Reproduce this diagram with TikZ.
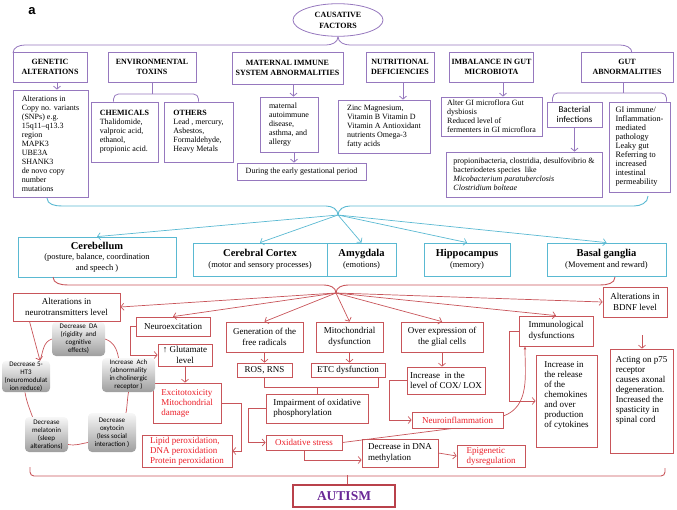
\documentclass[tikz,border=0pt]{standalone}
\usepackage{fontspec}
\setmainfont{Liberation Serif}
\newfontfamily\calib{Carlito}
\newfontfamily\arialf{Liberation Sans}
\usetikzlibrary{shapes.geometric,arrows.meta}
\definecolor{pur}{RGB}{150,120,190}
\definecolor{cy}{RGB}{90,185,210}
\definecolor{rd}{RGB}{200,85,90}
\definecolor{rtxt}{RGB}{235,30,40}
\definecolor{autc}{RGB}{105,40,150}
\definecolor{autr}{RGB}{185,65,75}
\tikzset{pbox/.style={draw=pur, line width=0.8pt, inner sep=2pt},
  phead/.style={pbox, align=center, font=\fontsize{8}{10}\selectfont\bfseries},
  ptext/.style={pbox, align=left, font=\fontsize{8}{9}\selectfont},
  cbox/.style={draw=cy, line width=0.8pt, align=center, font=\fontsize{8.5}{10.5}\selectfont},
  rbox/.style={draw=rd, line width=0.8pt, inner sep=2pt, align=center, font=\fontsize{9}{10.5}\selectfont},
  rlbox/.style={rbox, align=left},
  rtext/.style={text=rtxt},
  gbox/.style={rounded corners=4pt, top color=black!3, bottom color=black!38, inner sep=1pt, align=center, font=\calib\fontsize{7}{8}\selectfont},
  pline/.style={draw=pur, line width=0.8pt},
  parr/.style={pline, -{Straight Barb[length=3pt,width=7pt]}},
  cline/.style={draw=cy, line width=0.9pt},
  carr/.style={draw=cy, line width=0.7pt, -{Straight Barb[length=3pt,width=7pt]}},
  rline/.style={draw=rd, line width=0.7pt},
  rarr/.style={rline, -{Straight Barb[length=3pt,width=7pt]}},
  rtri/.style={rline, -{Latex[length=3pt,width=3pt]}}}
\begin{document}
\begin{tikzpicture}[x=1pt,y=-1pt]
  \useasboundingbox (0,0) rectangle (677,509);
  \node[font=\arialf\bfseries\fontsize{13}{15}\selectfont] (lab) at (32,11) {a};
  \node[ellipse, draw=pur, line width=0.8pt, minimum width=90pt, minimum height=32pt, align=center, font=\fontsize{8}{11}\selectfont\bfseries] (cause) at (338,20) {CAUSATIVE\\FACTORS};
  \node[phead, minimum width=74pt, minimum height=30pt] (gen) at (50,67) {GENETIC\\ALTERATIONS};
  \node[phead, minimum width=88pt, minimum height=30pt] (env) at (152,67) {ENVIRONMENTAL\\TOXINS};
  \node[phead, minimum width=111pt, minimum height=32pt] (mat) at (287.5,68) {MATERNAL IMMUNE\\SYSTEM ABNORMALITIES};
  \node[phead, minimum width=68pt, minimum height=30pt] (nut) at (400,67) {NUTRITIONAL\\DEFICIENCIES};
  \node[phead, minimum width=81pt, minimum height=30pt] (imb) at (491.5,67) {IMBALANCE IN GUT\\MICROBIOTA};
  \node[phead, minimum width=92pt, minimum height=30pt] (gut) at (627,67) {GUT\\ABNORMALITIES};
  \draw[pline] (13,53) to[out=90,in=180] (25,45) -- (326,45) to[out=0,in=-90] (cause.south);
  \draw[pline] (cause.south) to[out=-90,in=180] (350,45) -- (620,45) to[out=0,in=90] (632,53);

  \node[ptext, minimum width=75pt, minimum height=107pt] (genx) at (50.5,143.5) {Alterations in\\Copy no. variants\\(SNPs) e.g.\\15q11–q13.3\\region\\MAPK3\\UBE3A\\SHANK3\\de novo copy\\number\\mutations};
  \node[ptext, minimum width=67pt, minimum height=60pt] (chem) at (124.5,132) {\textbf{CHEMICALS}\\Thalidomide,\\valproic acid,\\ethanol,\\propionic acid.};
  \node[ptext, minimum width=69pt, minimum height=60pt] (oth) at (198.5,132) {\textbf{OTHERS}\\Lead , mercury,\\Asbestos,\\Formaldehyde,\\Heavy Metals};
  \node[ptext, minimum width=58pt, minimum height=55pt] (matx) at (289,124.5) {maternal\\autoimmune\\disease,\\asthma, and\\allergy};
  \node[ptext, minimum width=129pt, minimum height=17pt] (gest) at (301.5,171.5) {During the early gestational period};
  \node[ptext, minimum width=92pt, minimum height=53pt] (nutx) at (384,126.5) {Zinc Magnesium,\\Vitamin B Vitamin D\\Vitamin A Antioxidant\\nutrients Omega-3\\fatty acids};
  \node[ptext, minimum width=101pt, minimum height=39pt] (imbx) at (491.5,116.5) {Alter GI microflora Gut\\dysbiosis\\Reduced level of\\fermenters in GI microflora};
  \node[pbox, minimum width=55pt, minimum height=25pt, align=center, font=\calib\fontsize{9}{10}\selectfont] (bact) at (574.5,114.5) {Bacterial\\infections};
  \node[ptext, minimum width=156pt, minimum height=45pt] (prop) at (524,174.5) {propionibacteria, clostridia, desulfovibrio \&\\bacteriodetes species\ \ like\\\textit{Micobacterium paratuberclosis}\\\textit{Clostridium bolteae}};
  \node[ptext, minimum width=61pt, minimum height=90pt, font=\fontsize{8.3}{9}\selectfont] (gix) at (639.5,147) {GI immune/\\Inflammation-\\mediated\\pathology\\Leaky gut\\Referring to\\increased\\intestinal\\permeability};

  \draw[parr] ([xshift=7pt]gen.south) -- ([xshift=7pt]gen.south |- genx.north);
  \draw[pline] (env.south) -- ++(0,12);
  \draw[pline, rounded corners=5pt] ([xshift=-11pt]chem.north) |- (152,94) -| (oth.north);
  \draw[parr] ([xshift=6pt]mat.south) -- ([xshift=6pt]mat.south |- matx.north);
  \draw[parr] ([xshift=5pt]matx.south) -- ([xshift=5pt]matx.south |- gest.north);
  \draw[parr] ([xshift=3pt]nut.south) -- ([xshift=3pt]nut.south |- nutx.north);
  \draw[parr] ([xshift=11.5pt]imb.south) -- ([xshift=11.5pt]imb.south |- imbx.north);
  \draw[pline] ([xshift=-4pt]gut.south) -- ++(0,11);
  \draw[pline, rounded corners=5pt] ([xshift=-22pt]bact.north) |- (623,93) -| ([xshift=27pt]gix.north);
  \draw[parr] (bact.south) -- (bact.south |- prop.north);

  \coordinate (hub) at (338,215);
  \draw[cline] (47,198) to[out=-90,in=180] (62,206) -- (326,206) to[out=0,in=90] (hub);
  \draw[cline] (hub) to[out=90,in=180] (350,206) -- (634,206) to[out=0,in=-90] (648,196);
  \node[cbox, minimum width=158pt, minimum height=40pt] (cbl) at (97,257) {\textbf{\fontsize{10.5}{12}\selectfont Cerebellum}\\(posture, balance, coordination\\and speech )};
  \node[cbox, minimum width=134pt, minimum height=33pt] (ccx) at (260,259.5) {\textbf{\fontsize{10.5}{12}\selectfont Cerebral Cortex}\\(motor and sensory processes)};
  \node[cbox, minimum width=69pt, minimum height=33pt] (amy) at (361.5,259.5) {\textbf{\fontsize{10.5}{12}\selectfont Amygdala}\\(emotions)};
  \node[cbox, minimum width=86pt, minimum height=33pt] (hip) at (467,259.5) {\textbf{\fontsize{10.5}{12}\selectfont Hippocampus}\\(memory)};
  \node[cbox, minimum width=119pt, minimum height=33pt] (bas) at (606.5,259.5) {\textbf{\fontsize{10.5}{12}\selectfont Basal ganglia}\\(Movement and reward)};
  \foreach \t in {cbl,ccx,amy,hip,bas}
    \draw[carr] (hub) -- (\t.north);

  \coordinate (hub2) at (336,293);
  \draw[rline, line width=0.9pt] (53,277) to[out=-90,in=180] (68,285) -- (324,285) to[out=0,in=90] (hub2);
  \draw[rline, line width=0.9pt] (hub2) to[out=90,in=180] (348,285) -- (600,285) to[out=0,in=-90] (615,277);

  \node[rbox, minimum width=107pt, minimum height=28pt] (neu) at (66.5,307) {Alterations in\\neurotransmitters level};
  \node[rbox, minimum width=74pt, minimum height=19pt] (nex) at (173,326.5) {Neuroexcitation};
  \node[rbox, minimum width=54pt, minimum height=22pt] (glu) at (185,355) {↑ Glutamate\\level};
  \node[rlbox, rtext, minimum width=68pt, minimum height=40pt, font=\fontsize{9}{10}\selectfont] (exc) at (187,403) {Excitotoxicity\\Mitochondrial\\damage};
  \node[rlbox, rtext, minimum width=90pt, minimum height=32pt, font=\fontsize{9}{10}\selectfont] (lip) at (187,451) {Lipid peroxidation,\\DNA peroxidation\\Protein peroxidation};
  \node[rbox, minimum width=77pt, minimum height=30pt] (frad) at (264.5,337) {Generation of the\\free radicals};
  \node[rbox, minimum width=67pt, minimum height=30pt] (mito) at (349.5,337) {Mitochondrial\\dysfunction};
  \node[rbox, minimum width=82pt, minimum height=30pt] (glia) at (442,337) {Over expression of\\the glial cells};
  \node[rlbox, minimum width=74pt, minimum height=30pt] (immu) at (556,331) {Immunological\\dysfunctions};
  \node[rbox, minimum width=64pt, minimum height=30pt] (bdnf) at (635,302) {Alterations in\\BDNF level};
  \node[rbox, minimum width=55pt, minimum height=14pt, inner sep=1pt] (ros) at (264.5,370) {ROS, RNS};
  \node[rbox, minimum width=74pt, minimum height=14pt, inner sep=1pt] (etc) at (348,370) {ETC dysfunction};
  \node[rlbox, minimum width=102pt, minimum height=29pt] (imp) at (317,408.5) {Impairment of oxidative\\phosphorylation};
  \node[rbox, rtext, minimum width=76pt, minimum height=15pt, inner sep=1pt] (oxs) at (304,442.5) {Oxidative stress};
  \node[rlbox, minimum width=76pt, minimum height=28pt] (dna) at (400,453) {Decrease in DNA\\methylation};
  \node[rlbox, rtext, minimum width=68pt, minimum height=22pt, font=\fontsize{9}{10}\selectfont] (epi) at (491,456) {Epigenetic\\dysregulation};
  \node[rlbox, minimum width=78pt, minimum height=27pt] (cox) at (446,380.5) {Increase\ \ in the\\level of COX/ LOX};
  \node[rbox, rtext, minimum width=91pt, minimum height=16pt, inner sep=1pt] (ninf) at (457.5,420) {Neuroinflammation};
  \node[rbox, minimum width=61pt, minimum height=92pt, label={[anchor=north, align=left, font=\fontsize{9}{10}\selectfont, yshift=-3pt]north:{Increase in\\the release\\of the\\chemokines\\and over\\production\\of cytokines}}] (rel) at (566.5,401) {};
  \node[rbox, minimum width=63pt, minimum height=104pt, label={[anchor=north, align=left, font=\fontsize{9}{10}\selectfont, yshift=-4pt]north:{Acting on p75\\receptor\\causes axonal\\degeneration.\\Increased the\\spasticity in\\spinal cord}}] (p75) at (641.5,401) {};

  \draw[rarr] (hub2) -- (neu.east);
  \foreach \t in {nex,frad,mito,glia,immu}
    \draw[rarr] (hub2) -- (\t.north);
  \draw[rarr] (hub2) -- (bdnf.west);

  \node[gbox, minimum width=53pt, minimum height=34pt] (gda) at (78.5,339) {Decrease\ \ DA\\(rigidity\ \ and\\cognitive\\effects)};
  \node[gbox, minimum width=48pt, minimum height=31pt] (g5ht) at (26,376.5) {Decrease 5-\\HT3\\(neuromodulat\\ion reduce)};
  \node[gbox, minimum width=53pt, minimum height=34pt] (gach) at (128.5,375) {Increase\ \ Ach\\(abnormality\\in cholinergic\\receptor )};
  \node[gbox, minimum width=43pt, minimum height=35pt] (gmel) at (46.5,434.5) {Decrease\\melatonin\\(sleep\\alterations)};
  \node[gbox, minimum width=48pt, minimum height=39pt] (goxy) at (112,432.5) {Decrease\\oxytocin\\(less social\\interaction )};
  \draw[rarr] ([xshift=-37pt]neu.south) -- ([xshift=14pt]g5ht.north);
  \draw[rline] (gda.west) to[out=200,in=70] ([xshift=14pt]g5ht.north);
  \draw[rline] (gda.east) to[out=-20,in=100] ([xshift=-10pt]gach.north);
  \draw[rline] ([xshift=-1pt]g5ht.south) to[out=-80,in=110] ([xshift=-14pt]gmel.north);
  \draw[rline] ([yshift=-10pt]gmel.east) to[out=-10,in=190] ([yshift=-10pt]goxy.west);
  \draw[rline] (gach.south) to[out=-100,in=80] ([xshift=14pt]goxy.north);

  \draw[rarr] (nex.west) -- ++(-5,0) |- (glu.west);
  \draw[rarr] (glu.south) -- (glu.south |- exc.north);
  \draw[rarr] (exc.east) -- ++(20,0) |- (lip.east);
  \draw[rarr] (frad.south) -- (frad.south |- ros.north);
  \draw[rarr] (mito.south) -- (mito.south |- etc.north);
  \draw[rline] (ros.south) -- ++(0,10) -| ([xshift=30pt]etc.south);
  \draw[rline] (imp.north) -- ++(0,-7);
  \draw[rarr] (imp.west) -- ++(-17,0) |- (oxs.west);
  \draw[rline] (oxs.east) -- ([xshift=-4.5pt]ninf.south);
  \draw[rarr] (oxs.south) |- ([yshift=-7pt]dna.west);
  \draw[rarr] (dna.east) -- (epi.west);
  \draw[rarr] (glia.south) -- (glia.south |- cox.north);
  \draw[rarr] (cox.west) -- ++(-17,0) |- (ninf.west);
  \draw[rtri] ([yshift=4pt]ninf.east) to[out=20,in=-90] ([xshift=-31pt]immu.south);
  \draw[rarr] (immu.west) -- ++(-9,0) |- (rel.west);
  \draw[rarr, shorten <=18pt] ([xshift=7pt]bdnf.south) -- ([xshift=7pt]bdnf.south |- p75.north);

  \node[draw=autr, line width=2pt, minimum width=102pt, minimum height=22pt, text=autc, font=\fontsize{13.5}{15}\selectfont\bfseries] (aut) at (344,496) {AUTISM};
  \draw[rline, line width=0.9pt, rounded corners=4pt] (30,467) -- (30,476) -- (665,476) -- (665,468);
  \draw[rline, line width=0.9pt] ([xshift=3pt]aut.north) -- ++(0,-9);
\end{tikzpicture}
\end{document}
